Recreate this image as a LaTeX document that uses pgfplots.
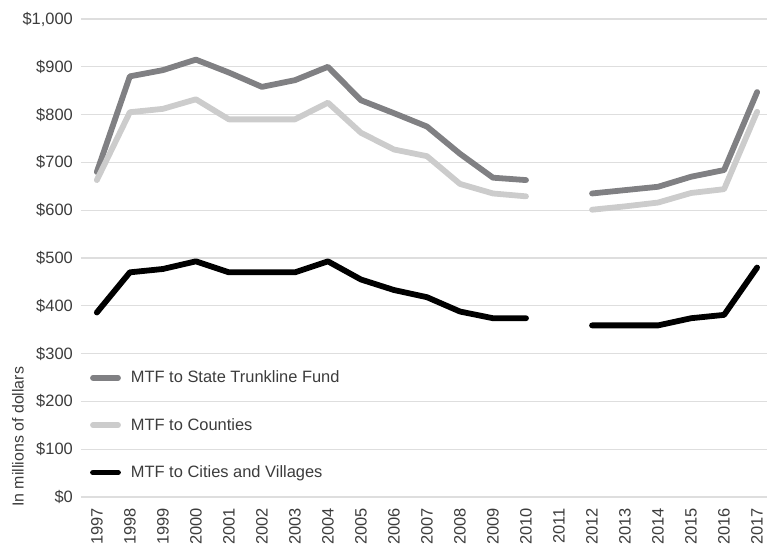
\documentclass[border=0pt]{standalone}
\usepackage{fontspec}
\setmainfont{Liberation Sans}
\usepackage{pgfplots}
\pgfplotsset{compat=1.18}
\definecolor{trunk}{RGB}{128,128,131}
\definecolor{county}{RGB}{204,204,204}
\definecolor{gridc}{RGB}{222,222,222}
\definecolor{txt}{RGB}{60,60,60}
\begin{document}
\begin{tikzpicture}
\begin{axis}[
  at={(0,0)}, anchor=south west,
  scale only axis, width=686bp, height=478bp,
  xmin=1996.52, xmax=2017.3, ymin=0, ymax=1000,
  axis line style={draw=none},
  major tick length=0pt,
  ymajorgrids, grid style={gridc, line width=1.3bp},
  xtick={1997,...,2017},
  xticklabels={1997,1998,1999,2000,2001,2002,2003,2004,2005,2006,2007,2008,2009,2010,2011,2012,2013,2014,2015,2016,2017},
  ytick={0,100,...,1000},
  yticklabels={\$0,\$100,\$200,\$300,\$400,\$500,\$600,\$700,\$800,\$900,{\$1,000}},
  tick label style={font=\fontsize{16.5}{19}\selectfont, text=txt},
  x tick label style={yshift=-11bp, rotate=90, anchor=east, inner sep=0pt},
  y tick label style={anchor=east, inner sep=0pt, xshift=-8bp},
  unbounded coords=jump,
  every axis plot/.append style={line width=5.8bp, line cap=round, line join=round},
  legend style={at={(0.013,0.268)}, anchor=north west, draw=none, fill=none,
    inner sep=0pt, row sep=30bp, font=\fontsize{16.5}{19}\selectfont, text=txt,
    cells={anchor=west}, /tikz/every odd column/.append style={column sep=8bp}},
  legend cell align=left,
  legend image code/.code={\draw[#1] (3bp,0bp) -- (28bp,0bp);},
]
\addplot[trunk] coordinates {
(1997,680) (1998,880) (1999,893) (2000,915) (2001,888) (2002,858) (2003,872)
(2004,900) (2005,830) (2006,803) (2007,775) (2008,718) (2009,668) (2010,663)
(2011,nan) (2012,635) (2013,642) (2014,649) (2015,670) (2016,684) (2017,847)};
\addlegendentry{MTF to State Trunkline Fund}
\addplot[county] coordinates {
(1997,663) (1998,805) (1999,812) (2000,832) (2001,790) (2002,790) (2003,790)
(2004,825) (2005,762) (2006,727) (2007,713) (2008,655) (2009,635) (2010,629)
(2011,nan) (2012,601) (2013,608) (2014,616) (2015,636) (2016,644) (2017,806)};
\addlegendentry{MTF to Counties}
\addplot[black] coordinates {
(1997,386) (1998,470) (1999,477) (2000,493) (2001,470) (2002,470) (2003,470)
(2004,493) (2005,455) (2006,433) (2007,418) (2008,388) (2009,374) (2010,374)
(2011,nan) (2012,359) (2013,359) (2014,359) (2015,374) (2016,381) (2017,480)};
\addlegendentry{MTF to Cities and Villages}
\end{axis}
\node[rotate=90, anchor=west, inner sep=0pt, text=txt, font=\fontsize{16}{19}\selectfont] at (-63bp,-10bp) {In millions of dollars};
\pgfresetboundingbox
\path (-81bp,-48bp) rectangle (686bp,497bp);
\end{tikzpicture}
\end{document}
